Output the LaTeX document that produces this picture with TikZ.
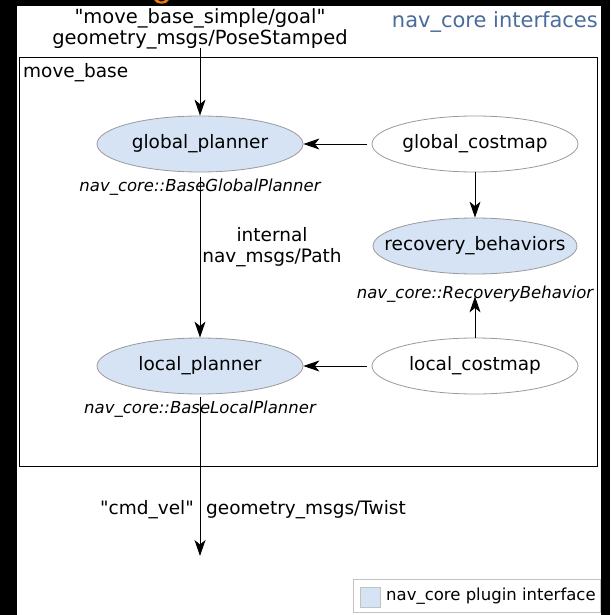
\documentclass[tikz,border=0pt]{standalone}
\usepackage{fontspec}
\setmainfont{DejaVu Sans}
\usetikzlibrary{shapes.geometric,arrows.meta}
\definecolor{plugblue}{HTML}{D5E3F5}
\definecolor{edgegray}{HTML}{9A9A9A}
\definecolor{titleblue}{HTML}{4A6D9C}
\definecolor{accent}{HTML}{F07A0A}
% centred text that does not widen the ellipse around it
\newcommand{\ctrtext}[1]{\makebox[0pt]{#1}}
\tikzset{
  bubble/.style={ellipse, draw=edgegray, line width=0.8pt,
    minimum width=206pt, minimum height=56pt, inner sep=0pt, font=\fontsize{18.5}{20}\selectfont},
  plugin/.style={bubble, fill=plugblue},
  costmap/.style={bubble, fill=white},
  iface/.style={font=\fontsize{16.5}{18}\selectfont\itshape, inner sep=0pt},
  txt/.style={font=\fontsize{18.5}{21}\selectfont, inner sep=0pt, align=center},
  toptxt/.style={font=\fontsize{19.5}{21}\selectfont, inner sep=0pt, align=center},
  flow/.style={draw=black, line width=1pt, -{Stealth[length=16pt,width=11pt,inset=4.5pt]}}
}
\begin{document}
\begin{tikzpicture}[x=1pt,y=-1pt]
\useasboundingbox (0,0) rectangle (610,615);
\fill[white] (0,0) rectangle (610,615);
% dark frame strips
\fill[black] (0,0) rectangle (17,615);
\fill[black] (601,0) rectangle (610,615);
\fill[black] (0,0) rectangle (610,6);
\fill[accent] (154,0) .. controls (156,5) and (167,5) .. (169,0) -- (165,0) .. controls (164,2) and (159,2) .. (158,0) -- cycle;

% container
\node[draw=black, line width=1.2pt, minimum width=578pt, minimum height=409pt, inner sep=0pt] (mb) at (308.5,262) {};
\node[txt, anchor=north west] (mblabel) at (23,63) {move\_base};
\node[font=\fontsize{21}{22}\selectfont, text=titleblue, anchor=east, inner sep=0pt] (title) at (598,22) {nav\_core interfaces};

% top input
\node[toptxt] (goal) at (200,28.5) {\textquotedbl move\_base\_simple/goal\textquotedbl\\geometry\_msgs/PoseStamped};

% nodes
\node[plugin] (gp) at (200,144) {\ctrtext{global\_planner}};
\node[costmap] (gc) at (475,144) {\ctrtext{global\_costmap}};
\node[plugin, minimum width=204pt] (rb) at (475,246) {\ctrtext{recovery\_behaviors}};
\node[costmap] (lc) at (475,366) {\ctrtext{local\_costmap}};
\node[plugin] (lp) at (200,366) {\ctrtext{local\_planner}};

\node[iface] (gpi) at (200,187) {nav\_core::BaseGlobalPlanner};
\node[iface] (rbi) at (475,294) {nav\_core::RecoveryBehavior};
\node[iface] (lpi) at (200,409) {nav\_core::BaseLocalPlanner};

\coordinate (out) at (200,556);
\coordinate (goaltail) at (200,48);

% connectors
\draw[flow] (goaltail) -- (gp.north);
\draw[flow] ([xshift=-5pt]gc.west) -- (gp.east);
\draw[flow] (gc.south) -- (rb.north);
\draw[flow] (lc.north) -- ([yshift=6pt]rbi.south);
\draw[flow] ([xshift=-5pt]lc.west) -- (lp.east);
\draw[flow] ([yshift=18pt]gpi.south) -- (lp.north);
\draw[flow] ([yshift=20pt]lpi.south) -- (out);

% edge labels
\node[txt] (path) at (272,247) {internal\\nav\_msgs/Path};
\node[txt, anchor=east] (cmd) at (194,510) {\textquotedbl cmd\_vel\textquotedbl};
\node[txt, anchor=west] (twist) at (206,510) {geometry\_msgs/Twist};

% legend
\node[draw=edgegray!60, line width=0.6pt, minimum width=247pt, minimum height=33pt, inner sep=0pt] (legend) at (476.5,596) {};
\node[fill=plugblue, draw=edgegray!60, line width=0.5pt, minimum size=20pt, inner sep=0pt] (swatch) at (370.5,597.5) {};
\node[font=\fontsize{16.5}{18}\selectfont, inner sep=0pt, anchor=west] (legtext) at (386,596.5) {nav\_core plugin interface};
\end{tikzpicture}
\end{document}
